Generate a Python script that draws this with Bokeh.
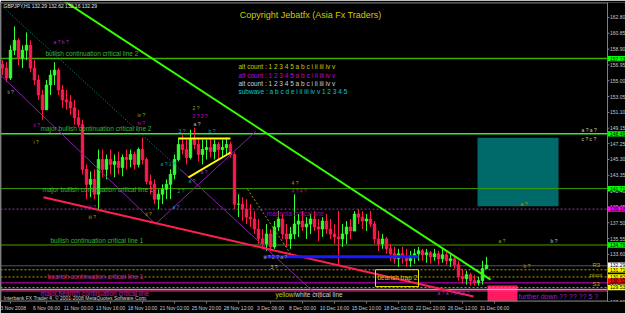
from bokeh.plotting import figure
from bokeh.models import ColumnDataSource, Range1d, FixedTicker, Span
from bokeh.embed import file_html
from bokeh.resources import INLINE
from bokeh.core.properties import value

FONT = "Liberation Sans"

# ---------------- data ----------------
first_open = 157.00
bar_high = [157.54, 157.29, 159.37, 161.70, 160.23, 159.37, 160.96, 159.98, 157.54, 155.70,
            153.87, 155.09, 156.31, 157.29, 156.56, 154.48, 153.87, 153.25, 152.64, 151.42,
            150.19, 144.69, 143.83, 144.08, 146.52, 146.52, 145.91, 146.52, 145.91, 146.28,
            145.91, 146.52, 146.52, 146.28, 146.77, 147.99, 145.54, 143.46, 142.85, 141.63,
            142.24, 142.85, 144.08, 145.91, 147.99, 148.36, 147.75, 148.97, 149.22, 147.99,
            147.75, 147.75, 147.99, 147.75, 147.50, 147.75, 147.99, 147.50, 146.16, 141.02,
            140.65, 140.40, 139.79, 138.94, 137.96, 136.73, 137.34, 136.73, 137.71, 138.94,
            138.57, 137.34, 136.98, 141.02, 138.57, 138.94, 138.20, 138.57, 138.94, 137.96,
            138.20, 138.57, 137.96, 137.34, 138.94, 137.34, 137.71, 137.96, 138.94, 139.18,
            138.94, 138.57, 138.94, 137.71, 136.49, 136.12, 135.75, 134.90, 134.53, 134.29,
            134.53, 134.29, 134.04, 134.29, 134.53, 134.29, 134.29, 134.04, 134.29, 134.04,
            134.29, 134.04, 133.67, 133.55, 132.82, 131.84, 131.59, 131.35, 131.10, 130.86,
            132.82, 133.31]
bar_low = [155.70, 154.84, 155.09, 158.15, 156.92, 156.56, 157.54, 156.07, 154.48, 152.64,
           150.19, 152.03, 153.25, 154.48, 153.25, 151.66, 151.42, 150.81, 149.58, 149.22,
           143.46, 140.40, 140.65, 140.40, 139.18, 143.10, 142.85, 143.46, 143.10, 143.46,
           143.22, 144.08, 144.32, 144.08, 144.32, 144.69, 142.24, 141.02, 139.79, 139.18,
           139.79, 140.40, 140.40, 142.85, 145.05, 145.91, 144.69, 145.30, 146.52, 145.05,
           144.69, 145.30, 145.54, 145.30, 145.30, 145.54, 145.91, 145.54, 139.18, 138.20,
           137.71, 137.34, 136.98, 136.12, 134.90, 134.29, 134.04, 134.04, 134.29, 136.49,
           135.51, 134.53, 134.29, 135.51, 135.75, 136.49, 135.51, 136.12, 136.49, 135.26,
           135.75, 136.12, 135.51, 134.90, 132.20, 134.53, 134.90, 135.51, 136.49, 137.34,
           136.73, 136.49, 136.98, 134.90, 134.04, 134.29, 133.67, 132.82, 132.45, 132.08,
           132.45, 132.08, 132.08, 132.45, 132.82, 132.82, 132.57, 132.45, 132.82, 132.33,
           132.57, 132.33, 132.08, 131.84, 130.37, 130.00, 129.88, 129.76, 129.76, 129.76,
           129.88, 131.84]
bar_close = [156.56, 155.33, 158.76, 159.98, 157.78, 158.76, 159.37, 156.56, 155.09, 153.25,
             151.42, 154.48, 155.70, 156.31, 153.87, 152.64, 152.40, 151.66, 150.44, 149.58,
             144.08, 142.24, 142.85, 141.02, 145.30, 144.08, 145.30, 144.69, 145.05, 144.32,
             145.54, 145.30, 145.91, 144.69, 146.52, 145.30, 142.61, 142.24, 140.40, 141.02,
             141.63, 142.24, 143.46, 145.30, 147.14, 146.52, 145.54, 147.75, 147.14, 145.91,
             146.52, 146.77, 146.28, 147.14, 146.52, 146.77, 147.14, 145.91, 139.79, 139.79,
             139.18, 138.20, 137.96, 136.73, 135.51, 134.90, 136.12, 134.53, 136.98, 137.96,
             136.12, 135.51, 136.12, 137.34, 137.71, 136.98, 137.34, 137.96, 136.98, 136.73,
             137.71, 136.73, 136.12, 135.75, 135.51, 136.12, 136.98, 136.49, 138.57, 138.20,
             137.71, 137.96, 137.34, 135.51, 134.90, 135.51, 134.29, 133.67, 133.06, 133.67,
             133.31, 132.82, 133.31, 133.67, 134.04, 133.55, 133.80, 133.31, 133.67, 133.06,
             133.55, 132.82, 133.06, 132.33, 130.86, 130.61, 131.10, 130.37, 130.12, 130.37,
             131.84, 132.29]

time_labels = ["3 Nov 2008", "6 Nov 06:00", "11 Nov 00:00", "13 Nov 16:00", "18 Nov 10:00",
               "21 Nov 02:00", "25 Nov 20:00", "28 Nov 12:00", "3 Dec 06:00", "8 Dec 00:00",
               "10 Dec 16:00", "15 Dec 10:00", "18 Dec 02:00", "22 Dec 20:00", "26 Dec 12:00",
               "31 Dec 06:00"]
time_label_bar = [2, 11, 19, 27, 35, 43, 51, 59, 67, 75, 83, 91, 99, 107, 115, 123]

price_ticks = [162.80, 160.85, 158.90, 156.95, 155.00, 153.05, 151.10, 149.15, 147.25,
               145.30, 143.35, 141.40, 139.45, 137.50, 135.55, 133.60, 131.65, 129.70, 127.80]

# horizontal level lines
level_price = [157.73, 148.46, 141.71, 139.18, 134.76, 132.20, 131.71, 130.82, 130.10, 129.53, 129.30, 129.10]
level_color = ["#3fae00", "#33ee33", "#3c9c00", "#8844aa", "#4ca000", "#555555", "#b3a000",
               "#b3a000", "#cc00cc", "#b3a000", "#d0d0d0", "#ff3399"]
level_width = [1.5, 1.5, 1, 1, 1, 1, 1, 1, 1, 1, 1, 1]
level_dashed = [False, False, False, True, False, False, True, True, False, True, False, False]

# price tags on the right scale
tag_price = [157.73, 148.46, 141.71, 139.18, 134.76, 132.29, 131.71, 130.82, 130.32, 129.53]
tag_color = ["#00ff00", "#00ff00", "#00ff00", "#ff00ff", "#00ff00", "#ffffff", "#ffff00",
             "#ffff00", "#ff0000", "#ffff00"]

# trend lines (bar index, price)
tl_x0 = [15.25, 0.25, 61.25, -0.5, 38.25, 44.5, 10.25, 65.25, 44.0, 46.5]
tl_y0 = [164.88, 164.02, 141.63, 155.70, 137.34, 144.08, 140.65, 133.31, 147.87, 143.10]
tl_x1 = [122.0, 46.25, 72.0, 38.25, 63.25, 79.5, 117.75, 104.0, 57.0, 57.0]
tl_y1 = [130.49, 143.22, 133.67, 137.34, 148.73, 128.17, 128.41, 133.31, 147.87, 146.16]
tl_color = ["#33ff00", "#009999", "#999900", "#8a1fb0", "#8a1fb0", "#8a1fb0", "#ff2050",
            "#1a1aff", "#ffff00", "#ffff00"]
tl_width = [2, 1, 1, 1, 1, 1, 2, 3, 2, 2]
tl_dash = ["solid", "1 2", "2 2", "solid", "solid", "solid", "solid", "solid", "solid", "solid"]

# zones
zone_left = [118.75, 121.25]
zone_right = [139.0, 128.75]
zone_top = [147.99, 129.76]
zone_bottom = [139.55, 127.70]
zone_color = ["#006a6a", "#ff1a5e"]

trap_box = dict(left=[93.25], right=[104.0], top=[131.72], bottom=[129.64])

# notes
note_text = ["bullish continuation critical line 2", "major bullish continuation critical line 2",
             "major bullish continuation critical line 1", "bullish continuation critical line 1",
             "bearish continuation critical line 1", "major bearish continuation critical line",
             "magenta critical line", "yellow", "/white critical line", "bearish trap 2",
             "alt count : 1 2 3 4 5 a b c i ii iii iv v", "alt count : 1 2 3 4 5 a b c i ii iii iv v",
             "alt count : 1 2 3 4 5 a b c i ii iii iv v", "subwave : a b c d e i ii iii iv v 1 2 3 4 5"]
note_x = [10.75, 9.5, 10.0, 12.0, 11.25, 9.5, 66.0, 68.25, 72.75, 93.75, 59.0, 59.0, 59.0, 59.0]
note_y = [158.39, 149.09, 141.63, 135.26, 130.86, 128.78, 138.69, 128.66, 128.66, 130.74,
          156.80, 155.70, 154.72, 153.62]
note_color = ["#39b839", "#39b839", "#39b839", "#39b839", "#cc1a99", "#cc1a99", "#a000a0",
              "#cccc00", "#d0d0d0", "#e0c000", "#c8c800", "#cc00cc", "#d0d0d0", "#00cccc"]

wave_text = ["a ? b ?", "ii ?", "2 ?", "2 ? 2 ?", "a ?", "3 ?", "b ?", "iv ?", "iv ?", "ii ?", "i ?",
             "a ? 1 ?", "a ?", "2 ?", "a ?", "iii ?", "iii ?", "ii ?", "a ?", "4 ?", "4 ? 4 ?",
             "a ? 2 ? a ?", "3 ?", "a ? a ?", "c ? c ?", "a ?", "a ?", "b ?", "b ?", "a ? a ? b ? 5 ?"]
wave_x = [12.75, 1.25, 47.5, 47.5, 47.75, 44.0, 51.5, 33.75, 33.75, 7.75, 7.75,
          39.5, 46.5, 43.75, 49.5, 21.5, 21.5, 35.75, 42.5, 72.25, 72.25,
          65.25, 67.0, 144.75, 144.75, 129.5, 124.0, 137.0, 130.25, 108.75]
wave_y = [159.74, 153.62, 151.66, 150.68, 149.70, 148.85, 148.85, 150.81, 149.83, 149.58, 147.50,
          144.69, 142.61, 141.38, 143.71, 139.43, 138.20, 138.57, 139.43, 142.36, 141.38,
          133.31, 132.08, 148.97, 147.87, 139.79, 135.26, 135.26, 132.20, 128.90]
wave_color = ["#9933cc", "#a0a0a0", "#a0a000", "#cc00cc", "#c0c0c0", "#00a0a0", "#00a0a0",
              "#a0a000", "#cc00cc", "#cc00cc", "#a0a000", "#00a0a0", "#00a0a0", "#00a0a0", "#9933cc",
              "#cc00cc", "#a0a000", "#a0a000", "#00a0a0", "#a0a000", "#cc00cc", "#a0a000", "#c0c0c0",
              "#d0d0a0", "#d0d0a0", "#a0a000", "#a0a000", "#c0c0c0", "#a0a000", "#9933cc"]

pivot_text = ["R3", "pivot", "S3"]
pivot_x = [147.5, 146.75, 147.5]
pivot_y = [132.33, 131.10, 130.00]

# ---------------- figure ----------------
X0, XS, XE = -0.5, 151.25, 155.75      # chart start, price-scale edge, canvas end (bar units)
Y0, Y1 = 127.80, 164.64

n = len(bar_close)
idx = list(range(n))
bar_open = [first_open] + bar_close[:-1]
up = [c >= o for o, c in zip(bar_open, bar_close)]
col = ["#33ff33" if u else "#ff1a4d" for u in up]
src = ColumnDataSource(dict(x=idx, high=bar_high, low=bar_low,
                            top=[max(o, c) for o, c in zip(bar_open, bar_close)],
                            bottom=[min(o, c) for o, c in zip(bar_open, bar_close)],
                            color=col))

p = figure(width=625, height=313, output_backend="svg", toolbar_location=None,
           x_range=Range1d(X0, XE), y_range=Range1d(Y0, Y1),
           y_axis_location=None, min_border_left=0, min_border_right=0,
           min_border_top=2, min_border_bottom=10,
           background_fill_color="black", border_fill_color="black",
           outline_line_color=None)
p.grid.visible = False

# zones first (behind)
p.quad(left=zone_left, right=zone_right, top=zone_top, bottom=zone_bottom,
       fill_color=zone_color, line_color=None)

# level lines (stop at the price scale)
for dashed in (False, True):
    sel = [i for i in range(len(level_price)) if level_dashed[i] == dashed]
    p.segment(x0=[X0] * len(sel), x1=[XS] * len(sel),
              y0=[level_price[i] for i in sel], y1=[level_price[i] for i in sel],
              line_color=[level_color[i] for i in sel], line_width=[level_width[i] for i in sel],
              line_dash="2 2" if dashed else "solid")

# candles
p.segment(x0="x", y0="low", x1="x", y1="high", color="color", line_width=1, source=src)
p.vbar(x="x", width=0.6, top="top", bottom="bottom", fill_color="color", line_color="color", source=src)

# trend lines
for i in range(len(tl_x0)):
    p.segment(x0=[tl_x0[i]], y0=[tl_y0[i]], x1=[tl_x1[i]], y1=[tl_y1[i]],
              line_color=tl_color[i], line_width=tl_width[i], line_dash=tl_dash[i])

p.quad(fill_color=None, line_color="#e6e600", line_width=1, **trap_box)

# texts
p.text(x=note_x, y=note_y, text=note_text, text_color=note_color, text_font=value(FONT),
       text_font_size="6.5px", text_baseline="middle", text_align="left")
p.text(x=wave_x, y=wave_y, text=wave_text, text_color=wave_color, text_font=value(FONT),
       text_font_size="5px", text_baseline="middle", text_align="left")
p.text(x=pivot_x, y=pivot_y, text=pivot_text, text_color="#b0b000", text_font=value(FONT),
       text_font_size="6px", text_baseline="middle", text_align="left")
p.text(x=[77.0], y=[163.04], text=["Copyright Jebatfx (Asia Fx Traders)"], text_color="#cccc00",
       text_font=value(FONT), text_font_size="9px", text_baseline="middle", text_align="center")
p.text(x=[0.25], y=[164.15], text=["GBPJPY,H1  132.29 132.62 132.16 132.29"], text_color="#e0e0e0",
       text_font=value(FONT), text_font_size="5px", text_baseline="middle", text_align="left")
p.text(x=[0.25], y=[128.17], text=["Interbank FX Trader 4, \u00a9 2001-2008 MetaQuotes Software Corp."],
       text_color="#d0d0d0", text_font=value(FONT), text_font_size="5px",
       text_baseline="middle", text_align="left")
p.text(x=[129.0], y=[128.41], text=["further down ?? ?? ?? 5 ?"], text_color="#9922cc",
       text_font=value(FONT), text_font_size="7px", text_baseline="middle", text_align="left")

# chart border (top, left, bottom) and price scale
p.segment(x0=[X0, X0 + 0.1, X0], y0=[Y1 - 0.06, Y0, Y0 + 0.06], x1=[XS, X0 + 0.1, XS],
          y1=[Y1 - 0.06, Y1, Y0 + 0.06], line_color="#808080", line_width=1)
p.add_layout(Span(location=XS, dimension="height", line_color="#808080", line_width=1))
p.segment(x0=[XS] * len(price_ticks), x1=[XS + 0.5] * len(price_ticks), y0=price_ticks, y1=price_ticks,
          line_color="#808080", line_width=1)
p.text(x=[XS + 0.6] * len(price_ticks), y=price_ticks, text=[f"{t:.2f}" for t in price_ticks],
       text_color="#c8c8c8", text_font=value(FONT), text_font_size="5px",
       text_baseline="middle", text_align="left")

# price tags on the scale
p.quad(left=[XS] * len(tag_price), right=[XE] * len(tag_price),
       top=[t + 0.33 for t in tag_price], bottom=[t - 0.33 for t in tag_price],
       fill_color=tag_color, line_color=None)
p.text(x=[XS + 0.6] * len(tag_price), y=tag_price, text=[f"{t:.2f}" for t in tag_price],
       text_color="#000000", text_font=value(FONT), text_font_size="5px",
       text_baseline="middle", text_align="left")

# time axis
p.xaxis.ticker = FixedTicker(ticks=time_label_bar)
p.xaxis.major_label_overrides = {t: l for t, l in zip(time_label_bar, time_labels)}
ax = p.xaxis[0]
ax.axis_line_color = None
ax.major_tick_line_color = "#808080"
ax.minor_tick_line_color = None
ax.major_tick_out = 2
ax.major_tick_in = 0
ax.major_label_standoff = 1
ax.major_label_text_color = "#c8c8c8"
ax.major_label_text_font = FONT
ax.major_label_text_font_size = "5px"

open("out.html", "w").write(file_html(p, INLINE))
